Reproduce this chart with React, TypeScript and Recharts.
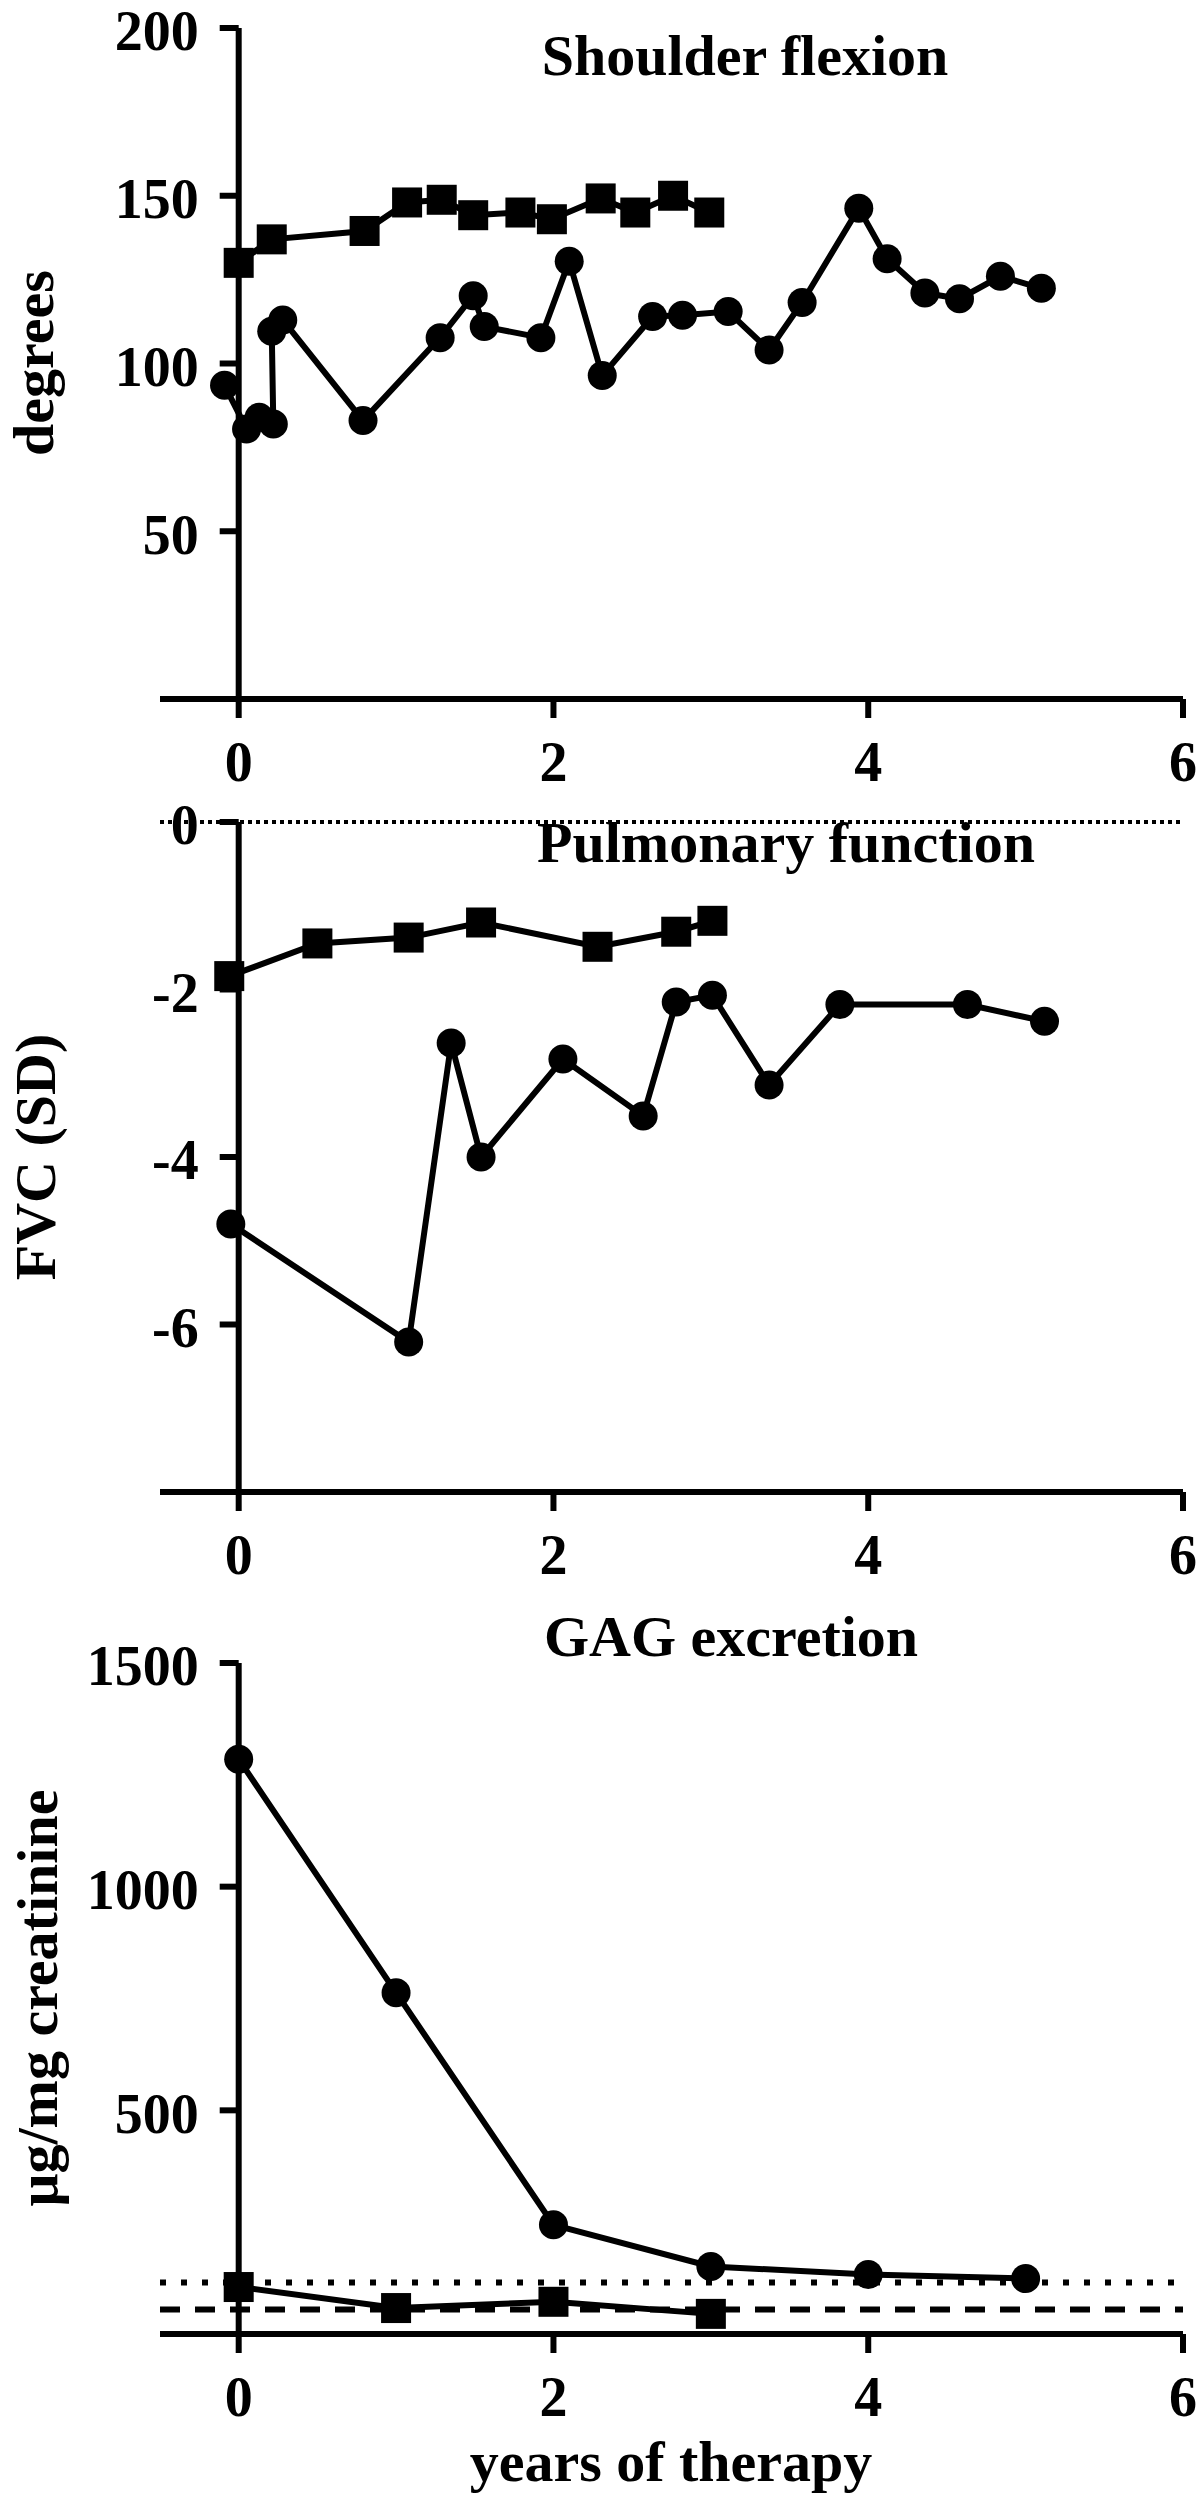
import React from 'react';
import { LineChart, Line, XAxis, YAxis, ReferenceLine } from 'recharts';

const FONT = '"Liberation Serif", "Times New Roman", serif';
const FS = 56;

// shared x axis (years of therapy)
const X_MIN = -0.5;
const X_MAX = 6;
const X_TICKS = [0, 2, 4, 6];

// Shoulder flexion (degrees)
const shoulderSqX = [0, 0.21, 0.8, 1.07, 1.29, 1.49, 1.79, 1.99, 2.3, 2.52, 2.76, 2.99];
const shoulderSqY = [130, 137, 139.5, 148, 148.8, 144.2, 145, 143, 149.2, 145, 150, 145];
const shoulderCiX = [-0.09, 0.05, 0.13, 0.22, 0.21, 0.28, 0.79, 1.28, 1.49, 1.56, 1.92, 2.1, 2.31, 2.63, 2.82, 3.11, 3.37, 3.58, 3.94, 4.12, 4.36, 4.58, 4.84, 5.1];
const shoulderCiY = [93.5, 80.5, 84, 82, 109.6, 113, 83, 107.7, 120.2, 111, 107.7, 130.5, 96.4, 114, 114.4, 115.5, 104, 118.2, 146.3, 131.2, 121, 119.3, 126, 122.4];
const shoulderTicks = [50, 100, 150, 200];

// Pulmonary function, FVC (SD)
const pulmSqX = [-0.06, 0.5, 1.08, 1.54, 2.28, 2.78, 3.01];
const pulmSqY = [-1.84, -1.45, -1.38, -1.2, -1.49, -1.31, -1.18];
const pulmCiX = [-0.05, 1.08, 1.35, 1.54, 2.06, 2.57, 2.78, 3.01, 3.37, 3.82, 4.63, 5.12];
const pulmCiY = [-4.8, -6.21, -2.64, -4.0, -2.83, -3.51, -2.15, -2.07, -3.14, -2.18, -2.18, -2.38];
const pulmTicks = [0, -2, -4, -6];

// GAG excretion (ug/mg creatinine)
const gagCiX = [0, 1, 2, 3, 4, 5];
const gagCiY = [1285, 763, 244, 151, 133, 124];
const gagSqX = [0, 1, 2, 3];
const gagSqY = [105, 58, 72, 45];
const gagTicks = [500, 1000, 1500];
const gagUpper = 115;
const gagLower = 55;

const toPoints = (xs: number[], ys: number[]) => xs.map((x, i) => ({ x, y: ys[i] }));

const PLOT_LEFT = 160;
const PLOT_RIGHT = 1183;
const PLOT_W = PLOT_RIGHT - PLOT_LEFT;
const Y_W = 60;
// y axis sits at x = 0, inside the plot area
const Y_AXIS_SHIFT = (PLOT_W * (0 - X_MIN)) / (X_MAX - X_MIN);

const YTick = (props: any) => {
  const { x, y, payload } = props;
  const x0 = x + Y_AXIS_SHIFT;
  return (
    <g>
      <line x1={x0 - 19} x2={x0} y1={y} y2={y} stroke="#000" strokeWidth={6} />
      <text x={x0 - 40} y={y} dy="0.4em" textAnchor="end" fill="#000" fontSize={FS} fontFamily={FONT} fontWeight="bold">
        {payload.value}
      </text>
    </g>
  );
};

const squareDot = (p: any) => (
  <rect key={`sq-${p.index}`} x={p.cx - 15} y={p.cy - 15} width={30} height={30} fill="#000" />
);
const circleDot = (p: any) => (
  <circle key={`ci-${p.index}`} cx={p.cx} cy={p.cy} r={14.5} fill="#000" />
);

const Title = ({ text, cx, base, size = 58 }: any) => (
  <div
    style={{
      position: 'absolute', left: cx, top: base - 0.8375 * size, transform: 'translateX(-50%)',
      whiteSpace: 'nowrap', lineHeight: 1, fontSize: size, fontFamily: FONT, fontWeight: 'bold', color: '#000',
    }}
  >
    {text}
  </div>
);

const VLabel = ({ text, cx, cy, size = 58 }: any) => (
  <div
    style={{
      position: 'absolute', left: cx, top: cy, transform: 'translate(-50%, -50%) rotate(-90deg)',
      whiteSpace: 'nowrap', lineHeight: 1, fontSize: size, fontFamily: FONT, fontWeight: 'bold', color: '#000',
    }}
  >
    {text}
  </div>
);

const Panel = ({ top, height, marginTop, axisH, yDomain, yTicks, squares, circles, children }: any) => (
  <div style={{ position: 'absolute', left: 0, top }}>
    <LineChart width={1200} height={height} margin={{ top: marginTop, right: 1200 - PLOT_RIGHT, left: PLOT_LEFT - Y_W, bottom: 0 }}>
      <XAxis
        type="number" dataKey="x" domain={[X_MIN, X_MAX]} ticks={X_TICKS} interval={0} height={axisH}
        axisLine={{ stroke: '#000', strokeWidth: 6 }} tickLine={{ stroke: '#000', strokeWidth: 6 }}
        tickSize={19} tickMargin={23}
        tick={{ fill: '#000', fontSize: FS, fontFamily: FONT, fontWeight: 'bold' }}
      />
      <YAxis
        type="number" dataKey="y" domain={yDomain} ticks={yTicks} interval={0} width={Y_W}
        axisLine={false} tickLine={false} tickSize={0} tickMargin={0} tick={YTick}
      />
      {children}
      <ReferenceLine x={0} stroke="#000" strokeWidth={6} />
      <Line data={squares} dataKey="y" type="linear" stroke="#000" strokeWidth={6} dot={squareDot} activeDot={false} isAnimationActive={false} />
      <Line data={circles} dataKey="y" type="linear" stroke="#000" strokeWidth={6} dot={circleDot} activeDot={false} isAnimationActive={false} />
    </LineChart>
  </div>
);

export default function App() {
  return (
    <div style={{ position: 'absolute', left: 0, top: 0, width: 1200, height: 2502, background: '#fff', overflow: 'hidden' }}>
      <Panel
        top={0} height={800} marginTop={28} axisH={101} yDomain={[0, 200]} yTicks={shoulderTicks}
        squares={toPoints(shoulderSqX, shoulderSqY)} circles={toPoints(shoulderCiX, shoulderCiY)}
      />
      <Panel
        top={780} height={820} marginTop={42} axisH={108} yDomain={[-8, 0]} yTicks={pulmTicks}
        squares={toPoints(pulmSqX, pulmSqY)} circles={toPoints(pulmCiX, pulmCiY)}
      >
        <ReferenceLine y={0} stroke="#000" strokeWidth={4} strokeDasharray="4 4" />
      </Panel>
      <Panel
        top={1600} height={902} marginTop={63} axisH={168} yDomain={[0, 1500]} yTicks={gagTicks}
        squares={toPoints(gagSqX, gagSqY)} circles={toPoints(gagCiX, gagCiY)}
      >
        <ReferenceLine y={gagUpper} stroke="#000" strokeWidth={6} strokeDasharray="6 15" />
        <ReferenceLine y={gagLower} stroke="#000" strokeWidth={6} strokeDasharray="20 15" />
      </Panel>

      <Title text="Shoulder flexion" cx={745} base={76} />
      <Title text="Pulmonary function" cx={786} base={863} />
      <Title text="GAG excretion" cx={731} base={1657} />
      <Title text="years of therapy" cx={671} base={2482} />

      <VLabel text="degrees" cx={34} cy={363} />
      <VLabel text="FVC (SD)" cx={36} cy={1157} />
      <VLabel text="μg/mg creatinine" cx={38} cy={1998} />
    </div>
  );
}
